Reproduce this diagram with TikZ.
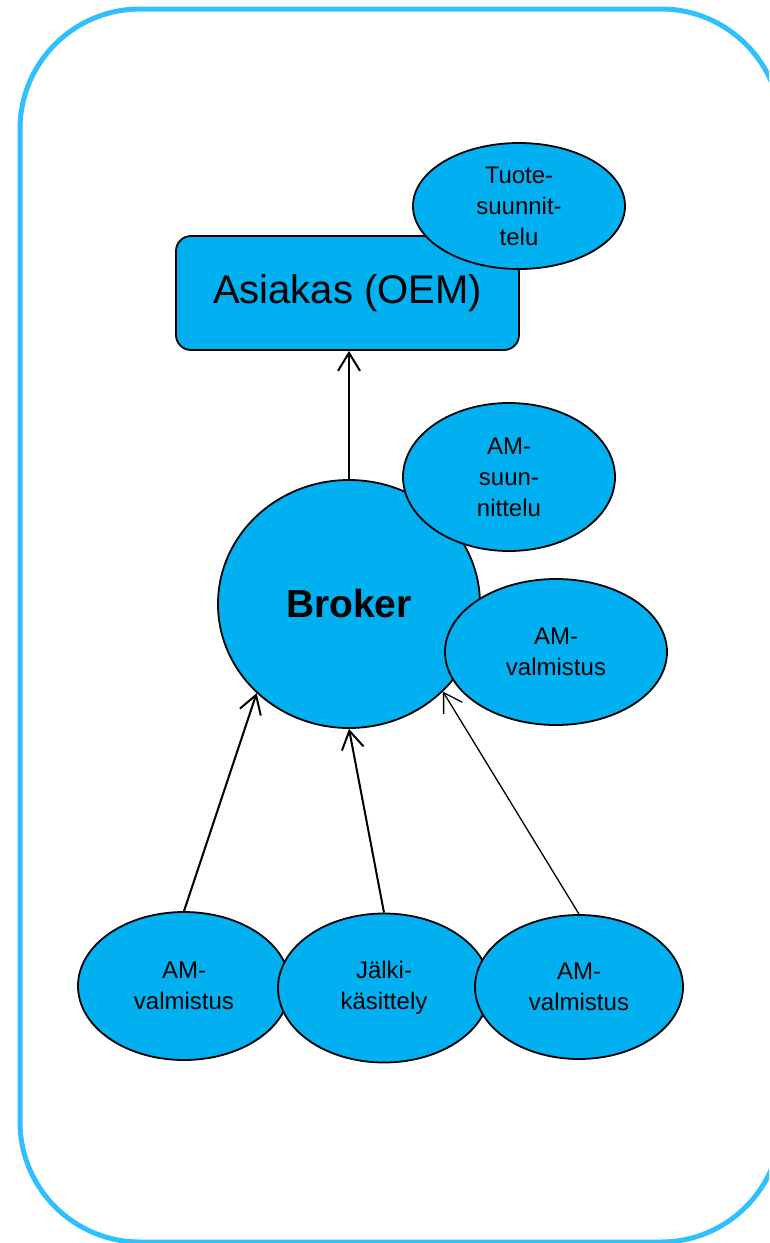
\documentclass[tikz,border=0pt]{standalone}
\usepackage{fontspec}
\setmainfont{Liberation Sans}
\usetikzlibrary{shapes.geometric,arrows.meta}
\definecolor{nodefill}{HTML}{00B0F0}
\definecolor{frameblue}{HTML}{30C0FF}
\begin{document}
\begin{tikzpicture}[x=1pt,y=-1pt,
  bubble/.style={ellipse, draw=black, fill=nodefill, line width=1.8pt,
    inner sep=0pt, align=center, font=\fontsize{24}{31}\selectfont},
  client/.style={rectangle, rounded corners=15pt, draw=black, fill=nodefill,
    line width=1.8pt, inner sep=0pt, font=\fontsize{40}{46}\selectfont},
  link/.style={line width=2pt, -{Straight Barb[length=18pt,width=22pt]}}]
\useasboundingbox (0,0) rectangle (769,1243);
% outer frame, running off the right and bottom edges
\begin{scope}
  \clip (0,0) rectangle (769,1243);
  \draw[frameblue, line width=5pt, rounded corners=120pt] (20,9) rectangle (781,1242);
\end{scope}

% customer and its design activity
\node[client, minimum width=343pt, minimum height=114pt] (oem) at (347.5,293) {Asiakas (OEM)};
\node[bubble, minimum width=212pt, minimum height=126pt] (design) at (519,206) {Tuote-\\suunnit-\\telu};

% broker with its own activities
\node[bubble, minimum width=262pt, minimum height=248pt,
  font=\fontsize{39}{45}\selectfont\bfseries] (broker) at (349,604) {Broker};
\node[bubble, minimum width=212pt, minimum height=148pt] (amdesign) at (509,477) {AM-\\suun-\\nittelu};
\node[bubble, minimum width=222pt, minimum height=146pt] (ammfg) at (556,652) {AM-\\valmistus};

% subcontractors
\node[bubble, minimum width=212pt, minimum height=148pt] (mfgA) at (184,986) {AM-\\valmistus};
\node[bubble, minimum width=212pt, minimum height=149pt] (post) at (384,988) {Jälki-\\käsittely};
\node[bubble, minimum width=208pt, minimum height=144pt] (mfgB) at (579,987) {AM-\\valmistus};

% flows towards the customer
\draw[link] (broker.north) -- (broker.north |- oem.south);
\draw[link] (mfgA.north) -- (broker.224);
\draw[link] (post.north) -- (broker.270);
\draw[link, line width=1.3pt] (mfgB.north) -- (broker.317);
\end{tikzpicture}
\end{document}
